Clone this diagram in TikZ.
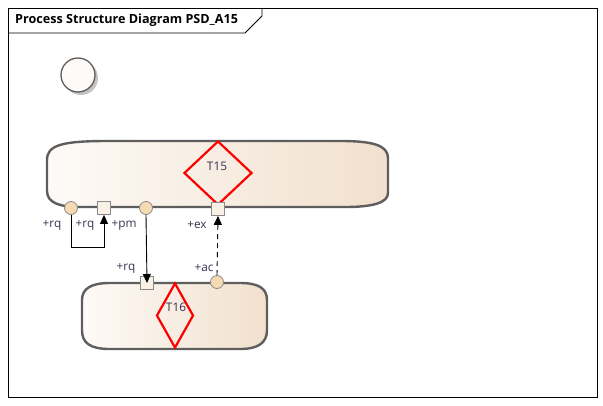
\documentclass[tikz,border=0pt]{standalone}
\usepackage{fontspec}
\setmainfont{Open Sans}
\usepackage{tikz}
\usetikzlibrary{shapes.geometric,arrows.meta,calc}
\definecolor{psdLine}{HTML}{5E5E5E}
\definecolor{psdLight}{HTML}{FDFAF7}
\definecolor{psdTan}{HTML}{F1E0CD}
\definecolor{psdPortC}{HTML}{F5DAB3}
\definecolor{psdPortS}{HTML}{FAF1E6}
\definecolor{psdPortEdge}{HTML}{8A8A8A}
\definecolor{psdText}{HTML}{3A3050}
\definecolor{psdShadow}{HTML}{C4C4C4}
\tikzset{
  partbody/.style={draw=psdLine, line width=2.4pt, left color=psdLight, right color=psdTan},
  taskgate/.style={diamond, draw=red, line width=2.2pt, inner sep=0pt},
  portc/.style={circle, draw=psdPortEdge, fill=psdPortC, minimum size=13pt, inner sep=0pt, line width=0.8pt},
  ports/.style={rectangle, draw=psdPortEdge, fill=psdPortS, minimum size=13pt, inner sep=0pt, line width=0.8pt},
  portlab/.style={font=\fontsize{11.8}{13}\selectfont, text=psdText, inner sep=0pt},
  tasklab/.style={font=\fontsize{11.8}{13}\selectfont, text=psdText, inner sep=0pt},
  link/.style={-{Triangle[length=9pt,width=8pt]}, draw=black, line width=0.9pt},
  linkdash/.style={link, dash pattern=on 5pt off 4pt}
}
\begin{document}
\begin{tikzpicture}[x=1pt,y=-1pt]
\useasboundingbox (0,0) rectangle (603,405);
\draw[line width=0.8pt] (8,8) rectangle (597,397);
\draw[line width=0.8pt] (8,33) -- (245,33) -- (262,16) -- (262,8);
\node[anchor=west, font=\fontsize{12.6}{14}\selectfont\bfseries, inner sep=0pt] (title) at (15,20.5) {Process Structure Diagram PSD\_A15};

\fill[psdShadow] (81,78) circle (17);
\node[circle, draw=psdLine, fill=psdLight, line width=1.3pt, minimum size=34pt, inner sep=0pt] (start) at (78,75) {};

\draw[partbody] (108,141) -- (340,141) .. controls (372,141) and (388,145) .. (388,158)
  -- (388,193) .. controls (388,203) and (372,207) .. (345,207) -- (80,207)
  .. controls (60,207) and (47,203) .. (47,191) -- (47,160)
  .. controls (47,145) and (62,141) .. (108,141) -- cycle;
\node[taskgate, minimum width=68pt, minimum height=64pt] (g15) at (218,173) {};
\node[tasklab] (t15) at (217,166) {T15};

\draw[partbody] (110,283) -- (240,283) .. controls (258,283) and (267,288) .. (267,300)
  -- (267,330) .. controls (267,343) and (258,349) .. (240,349) -- (110,349)
  .. controls (90,349) and (82,343) .. (82,330) -- (82,300)
  .. controls (82,288) and (92,283) .. (110,283) -- cycle;
\node[taskgate, minimum width=37pt, minimum height=65pt] (g16) at (175,315.5) {};
\node[tasklab] (t16) at (176,307) {T16};

\node[portc] (rqA) at (71,208) {};
\node[ports] (rqB) at (104,208) {};
\node[portc] (pm) at (146,208) {};
\node[ports] (ex) at (218,209) {};
\node[ports] (rqC) at (147,283) {};
\node[portc] (ac) at (217,282) {};

\node[portlab] at (52,225) {+rq};
\node[portlab] at (85,225) {+rq};
\node[portlab] at (124,225) {+pm};
\node[portlab] at (197,225) {+ex};
\node[portlab] at (126,268) {+rq};
\node[portlab] at (204,268) {+ac};

\coordinate (loop) at (104,247);
\draw[link] (rqA.south) |- (loop) -- (rqB.south);
\draw[link] (pm.south) -- (rqC.center);
\draw[linkdash] (ac.north) -- (ex.south);
\end{tikzpicture}
\end{document}
